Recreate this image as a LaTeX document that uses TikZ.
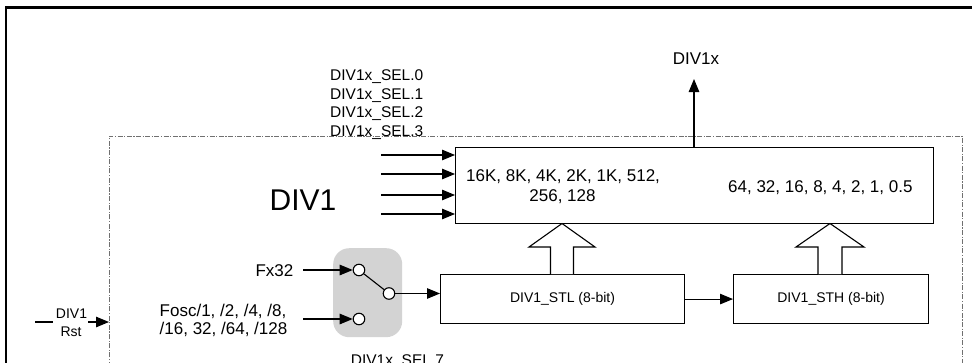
\documentclass[tikz,border=0pt]{standalone}
\usepackage{fontspec}
\setmainfont{Liberation Sans}
\usetikzlibrary{arrows.meta}
\definecolor{swgray}{HTML}{D3D3D3}
\definecolor{dashgray}{HTML}{707070}
\begin{document}
\begin{tikzpicture}[x=1pt,y=-1pt,
  ln/.style={line width=1.1pt},
  arr/.style={line width=1.1pt,-{Triangle[length=13pt,width=10.5pt]}},
  boxn/.style={draw,line width=1.1pt,inner sep=0pt,anchor=north west},
  lbl/.style={inner sep=0pt,anchor=base west},
  pin/.style={circle,draw,fill=white,line width=1.1pt,minimum size=11.5pt,inner sep=0pt},
  hollow/.style={line width=1.1pt,fill=white,line join=miter},
  fsel/.style={font=\fontsize{15.5}{18}\selectfont},
  fmid/.style={font=\fontsize{17}{20}\selectfont},
  fsmall/.style={font=\fontsize{14}{16}\selectfont},
]
\useasboundingbox (0,0) rectangle (972,362);
\clip (0,0) rectangle (972,362);

% outer frame (cut off at right and bottom)
\draw[line width=2.7pt] (6,375) -- (6,7.3) -- (985,7.3);

% dash-dot block outline
\draw[dashgray,line width=0.9pt,dash pattern=on 5pt off 1.5pt on 1.2pt off 1.5pt]
  (109,385) -- (109,136) -- (962,136) -- (962,385);

% mux block
\node[boxn,minimum width=478pt,minimum height=76pt] (mux) at (455,147) {};
\node[lbl,fmid] (t1) at (466,181) {16K, 8K, 4K, 2K, 1K, 512,};
\node[lbl,fmid,anchor=base] (t2) at (562.5,201) {256, 128};
\node[lbl,fmid] (t3) at (728,192) {64, 32, 16, 8, 4, 2, 1, 0.5};

% output
\coordinate (outtip) at (694,79);
\draw[arr] (mux.north -| outtip) -- (outtip);
\node[lbl,fmid,anchor=base] (div1x) at (696,64) {DIV1x};

% select labels
\node[lbl,fsel] (s0) at (330,80.5) {DIV1x\_SEL.0};
\node[lbl,fsel] (s1) at (330,99) {DIV1x\_SEL.1};
\node[lbl,fsel] (s2) at (330,117.5) {DIV1x\_SEL.2};
\node[lbl,fsel] (s3) at (330,136) {DIV1x\_SEL.3};

% select input arrows
\foreach \yy [count=\i] in {155,174,195,214} {
  \coordinate (in\i) at (381,\yy);
  \draw[arr] (in\i) -- (in\i -| mux.west);
}

% big label
\node[lbl,font=\fontsize{30}{34}\selectfont] (div1) at (269.5,210.5) {DIV1};

% counters
\node[boxn,minimum width=244pt,minimum height=49pt] (stl) at (440,274) {};
\node[fsmall,inner sep=0pt] (stlt) at (stl.center) {DIV1\_STL (8-bit)};
\node[boxn,minimum width=195pt,minimum height=49pt] (sth) at (733,274) {};
\node[fsmall,inner sep=0pt] (stht) at (sth.center) {DIV1\_STH (8-bit)};
\draw[arr] (stl.east) -- (sth.west);

% hollow block arrows
\draw[hollow] (550.5,274) -- (550.5,247) -- (529,247) -- (562,223.5) -- (595,247) -- (573.5,247) -- (573.5,274);
\draw[hollow] (818,274) -- (818,247) -- (796,247) -- (830,223.5) -- (864,247) -- (842,247) -- (842,274);

% switch
\node[fill=swgray,rounded corners=16pt,minimum width=69pt,minimum height=89pt,anchor=north west,inner sep=0pt] (sw) at (333,248) {};
\node[pin] (p1) at (359,270) {};
\node[pin] (p2) at (359,319) {};
\node[pin] (p3) at (389,293.5) {};
\draw[ln] (p1) -- (p3);
\draw[arr] (p3.east) -- (p3.east -| stl.west);

\coordinate (fxs) at (303,270);
\draw[arr] (fxs) -- (p1.west);
\coordinate (fos) at (303,319);
\draw[arr] (fos) -- (p2.west);

\node[lbl,fmid,anchor=base east] (fx) at (293.5,276) {Fx32};
\node[lbl,fmid] (fo1) at (159.5,316.5) {Fosc/1, /2, /4, /8,};
\node[lbl,fmid] (fo2) at (159.5,334.5) {/16, 32, /64, /128};

\node[lbl,fsel,anchor=north west] (s7) at (350.7,354.5) {DIV1x\_SEL.7};

% reset input
\node[lbl,fsmall,anchor=base] (r1) at (71.5,318) {DIV1};
\node[lbl,fsmall,anchor=base] (r2) at (71,336) {Rst};
\coordinate (ra) at (35,322);
\coordinate (rb) at (53,322);
\coordinate (rc) at (88,322);
\coordinate (rd) at (109,322);
\draw[ln] (ra) -- (rb);
\draw[arr] (rc) -- (rd);
\end{tikzpicture}
\end{document}
